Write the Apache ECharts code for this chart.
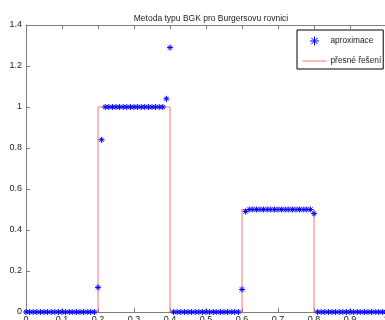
<!DOCTYPE html>
<html>
<head>
<meta charset="utf-8">
<script src="https://cdn.jsdelivr.net/npm/echarts@6/dist/echarts.min.js"></script>
<style>
html,body{margin:0;padding:0;background:#fff;}
#c{width:385px;height:320px;}
</style>
</head>
<body>
<div id="c"></div>
<script>
var titleText = "Metoda typu BGK pro Burgersovu rovnici";
var legendNames = ["aproximace", "přesné řešení"];
var xTicks = [0, 0.1, 0.2, 0.3, 0.4, 0.5, 0.6, 0.7, 0.8, 0.9, 1];
var yTicks = [0, 0.2, 0.4, 0.6, 0.8, 1, 1.2, 1.4];
// approximation at x = 0, 0.01, ..., 1
var approxY = [
  0,0,0,0,0,0,0,0,0,0,
  0,0,0,0,0,0,0,0,0,0,
  0.12,0.84,1,1,1,1,1,1,1,1,
  1,1,1,1,1,1,1,1,1,1.04,
  1.29,0,0,0,0,0,0,0,0,0,
  0,0,0,0,0,0,0,0,0,0,
  0.11,0.49,0.5,0.5,0.5,0.5,0.5,0.5,0.5,0.5,
  0.5,0.5,0.5,0.5,0.5,0.5,0.5,0.5,0.5,0.5,
  0.48,0,0,0,0,0,0,0,0,0,
  0,0,0,0,0,0,0,0,0,0,
  0
];
var exactX = [0, 0.2, 0.2, 0.4, 0.4, 0.6, 0.6, 0.8, 0.8, 1];
var exactY = [0, 0, 1, 1, 0, 0, 0.5, 0.5, 0, 0];

var approxData = approxY.map(function (v, i) { return [i / 100, v]; });
var exactData = exactX.map(function (x, i) { return [x, exactY[i]]; });

var star = 'path://M5,0L5,10M0,5L10,5M1.5,1.5L8.5,8.5M8.5,1.5L1.5,8.5';
var axisCol = '#7f7f7f';
var txtCol = '#222';
var redCol = '#ff6f6f';
var font = 'Liberation Sans, Arial, sans-serif';

var chart = echarts.init(document.getElementById('c'), null, {renderer: 'canvas'});
chart.setOption({
  animation: false,
  backgroundColor: '#fff',
  title: {
    text: titleText,
    left: 206, top: 9, textAlign: 'center',
    textStyle: {fontSize: 8.5, fontWeight: 'normal', color: txtCol, fontFamily: font}
  },
  legend: {
    left: 297, top: 30, orient: 'vertical',
    padding: [4, 2, 4, 5],
    itemWidth: 24, itemHeight: 9, itemGap: 9,
    borderColor: '#000', borderWidth: 1, backgroundColor: '#fff',
    textStyle: {fontSize: 8.3, color: txtCol, fontFamily: font, padding: [0, 0, 0, -1]},
    data: [
      {name: legendNames[0], icon: star, itemStyle: {color: 'none', borderColor: '#0000ff', borderWidth: 1}},
      {name: legendNames[1], itemStyle: {color: 'rgba(255,255,255,0)', borderColor: 'rgba(255,255,255,0)', borderWidth: 0},
        lineStyle: {color: redCol, width: 1, opacity: 1}}
    ]
  },
  grid: {left: 26, top: 25, width: 360, height: 287, containLabel: false, outerBoundsMode: 'none'},
  xAxis: [{
    type: 'value', min: xTicks[0], max: xTicks[xTicks.length - 1], interval: 0.1,
    axisLine: {show: true, lineStyle: {color: axisCol, width: 1}},
    axisTick: {show: true, inside: true, length: 4, lineStyle: {color: axisCol}},
    axisLabel: {fontSize: 9, color: txtCol, fontFamily: font, margin: 3,
      formatter: function (v) { return String(Math.round(v * 10) / 10); }},
    splitLine: {show: false}
  }, {
    type: 'value', position: 'top', min: xTicks[0], max: xTicks[xTicks.length - 1], interval: 0.1,
    axisLine: {show: true, lineStyle: {color: axisCol, width: 1}},
    axisTick: {show: true, inside: true, length: 4, lineStyle: {color: axisCol}},
    axisLabel: {show: false},
    splitLine: {show: false}
  }],
  yAxis: [{
    type: 'value', min: yTicks[0], max: yTicks[yTicks.length - 1], interval: 0.2,
    axisLine: {show: true, lineStyle: {color: axisCol, width: 1}},
    axisTick: {show: true, inside: true, length: 4, lineStyle: {color: axisCol}},
    axisLabel: {fontSize: 9, color: txtCol, fontFamily: font, margin: 4,
      formatter: function (v) { return String(Math.round(v * 10) / 10); }},
    splitLine: {show: false}
  }],
  series: [{
    name: legendNames[1],
    type: 'line',
    data: exactData,
    showSymbol: false, symbol: 'none',
    lineStyle: {color: redCol, width: 1},
    itemStyle: {color: redCol},
    z: 1
  }, {
    name: legendNames[0],
    type: 'scatter',
    data: approxData,
    symbol: star, symbolSize: 6,
    itemStyle: {color: 'none', borderColor: '#0000ff', borderWidth: 1, opacity: 1},
    z: 2
  }]
});
</script>
</body>
</html>
